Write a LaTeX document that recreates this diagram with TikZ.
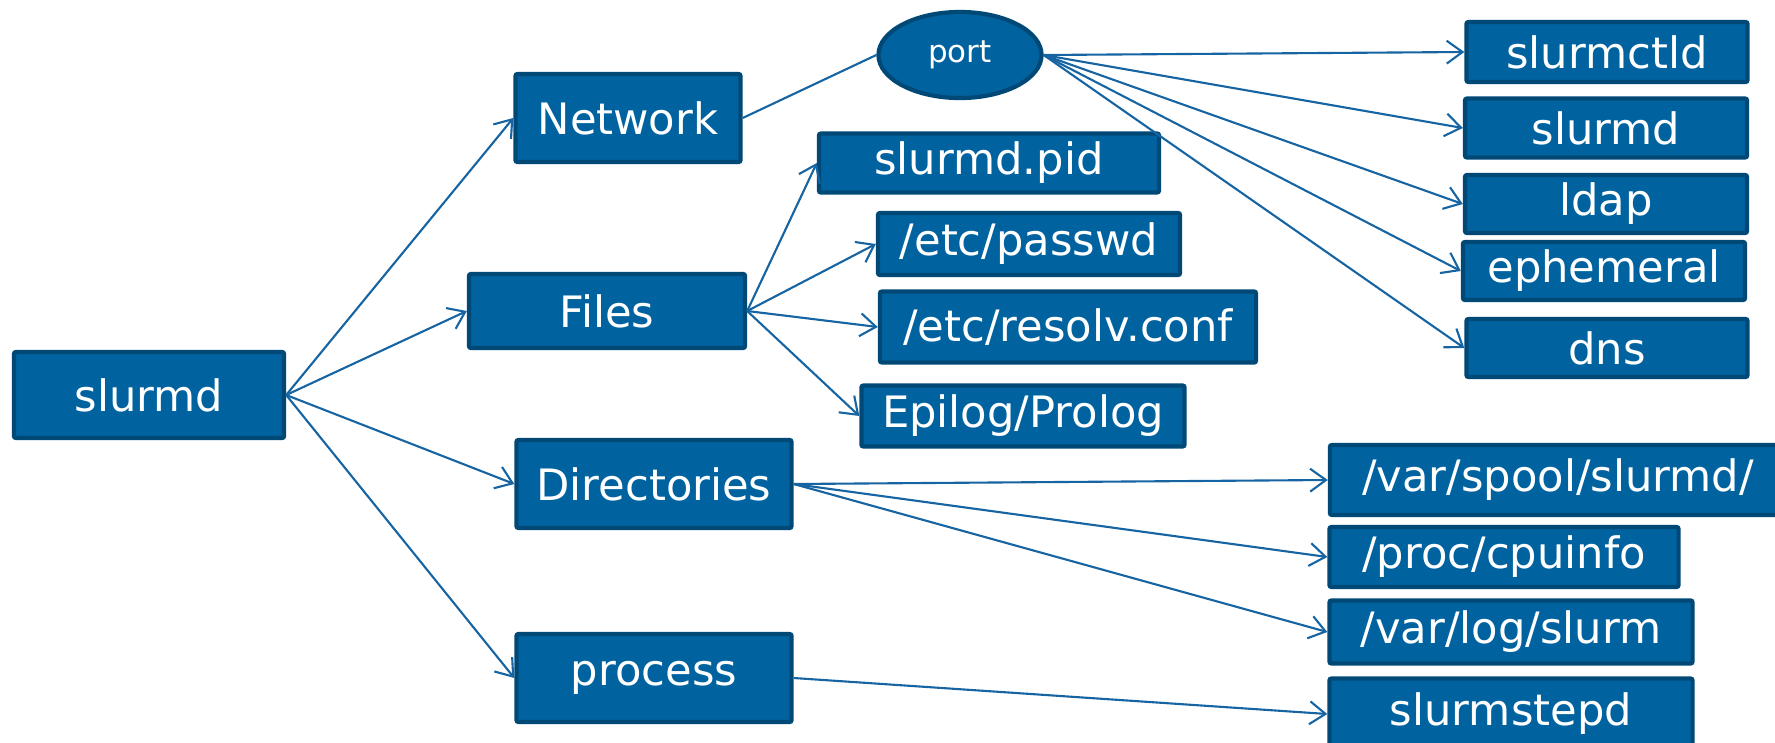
\documentclass[tikz,border=0pt]{standalone}
\usepackage{fontspec}
\setmainfont{DejaVu Sans}
\usetikzlibrary{arrows.meta,
shapes.geometric,
positioning}
\definecolor{boxblue}{RGB}{0,99,160}
\definecolor{boxedge}{RGB}{0,72,118}
\definecolor{linkblue}{RGB}{22,100,162}

\begin{document}
\begin{tikzpicture} [->,
  >={Straight Barb[length = 4.5pt, width = 6.5pt]},
  x = 0.01cm, y = -0.01cm,
  line width = 0.6pt,
  color = linkblue,
  box node/.style={rectangle, fill = boxblue, draw = boxedge,
      line width = 1.2pt, rounded corners = 0.6pt, inner sep = 0pt,
      text = white, font = \fontsize{12.3}{14}\selectfont},
  port node/.style={ellipse, fill = boxblue, draw = boxedge,
      line width = 1.2pt, inner sep = 0pt,
      text = white, font = \fontsize{8.8}{10}\selectfont}]

  \useasboundingbox (0, 0) rectangle (1775, 742);
  \clip (0, 0) rectangle (1775, 742);

  % root
  \node [box node, minimum width = 2.70cm, minimum height = 0.86cm] (slurmd) at (149, 395) {slurmd};

  % first level
  \node [box node, minimum width = 2.25cm, minimum height = 0.88cm] (net) at (628, 118) {Network};
  \node [box node, minimum width = 2.76cm, minimum height = 0.74cm] (files) at (607, 311) {Files};
  \node [box node, minimum width = 2.75cm, minimum height = 0.88cm] (dirs) at (654, 484) {Directories};
  \node [box node, minimum width = 2.75cm, minimum height = 0.88cm] (proc) at (654, 678) {process};

  \node [port node, minimum width = 1.63cm, minimum height = 0.86cm] (port) at (960, 55) {port};

  % files
  \node [box node, minimum width = 3.40cm, minimum height = 0.59cm] (pid) at (989, 163) {slurmd.pid};
  \node [box node, minimum width = 3.02cm, minimum height = 0.62cm] (passwd) at (1029, 244) {/etc/passwd};
  \node [box node, minimum width = 3.76cm, minimum height = 0.71cm] (resolv) at (1068, 327) {/etc/resolv.conf};
  \node [box node, minimum width = 3.23cm, minimum height = 0.61cm] (epilog) at (1023, 416) {Epilog/Prolog};

  % ports
  \node [box node, minimum width = 2.81cm, minimum height = 0.60cm] (ctld) at (1607, 52) {slurmctld};
  \node [box node, minimum width = 2.82cm, minimum height = 0.59cm] (sd) at (1606, 128) {slurmd};
  \node [box node, minimum width = 2.82cm, minimum height = 0.58cm] (ldap) at (1606, 204) {ldap};
  \node [box node, minimum width = 2.82cm, minimum height = 0.58cm] (eph) at (1604, 271) {ephemeral};
  \node [box node, minimum width = 2.81cm, minimum height = 0.58cm] (dns) at (1607, 348) {dns};

  % directories
  \node [box node, minimum width = 4.56cm, minimum height = 0.70cm] (spool) at (1558, 480) {/var/spool/slurmd/};
  \node [box node, minimum width = 3.49cm, minimum height = 0.60cm] (cpu) at (1504, 557) {/proc/cpuinfo};
  \node [box node, minimum width = 3.63cm, minimum height = 0.63cm] (log) at (1511, 632) {/var/log/slurm};

  % process
  \node [box node, minimum width = 3.63cm, minimum height = 0.71cm] (stepd) at (1511, 714) {slurmstepd};

  \foreach \dst in {net, files, dirs, proc}
  \draw (slurmd.east) -- (\dst.west);

  \draw [-] (net.east) -- (port.west);

  \foreach \dst in {ctld, sd, ldap, eph, dns}
  \draw (port.east) -- (\dst.west);

  \foreach \dst in {pid, passwd, resolv, epilog}
  \draw (files.east) -- (\dst.west);

  \foreach \dst in {spool, cpu, log}
  \draw (dirs.east) -- (\dst.west);

  \draw (proc.east) -- (stepd.west);

\end{tikzpicture}
\end{document}
